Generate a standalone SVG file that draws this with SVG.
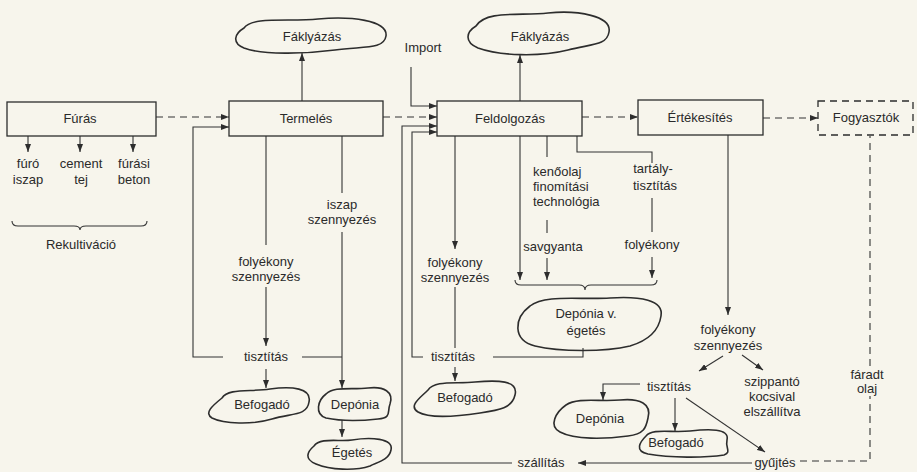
<svg xmlns="http://www.w3.org/2000/svg" width="917" height="472" viewBox="0 0 917 472">
<defs>
<marker id="ah" markerUnits="userSpaceOnUse" markerWidth="8" markerHeight="6" refX="8" refY="3" orient="auto">
<path d="M0,0 L8,3 L0,6 Z" fill="#2d2d2d"/>
</marker>
<style>
.box{fill:none;stroke:#2d2d2d;stroke-width:1.3}
.dbox{fill:none;stroke:#2d2d2d;stroke-width:1.3;stroke-dasharray:7,5}
.cloud{fill:none;stroke:#2d2d2d;stroke-width:1.6}
.ln{fill:none;stroke:#333;stroke-width:1.1}
.dash{stroke-dasharray:7,5}
.arr{marker-end:url(#ah)}
text{font-family:"Liberation Sans",Arial,sans-serif;font-size:13px;fill:#2a2a2a;text-anchor:middle}
.la{text-anchor:start}
</style>
</defs>
<rect x="0" y="0" width="917" height="472" fill="#f7f5ec"/>

<g id="connectors">
<path class="ln dash arr" d="M156,117 H229"/>
<path class="ln arr" d="M28,136 V152"/>
<path class="ln arr" d="M80,136 V152"/>
<path class="ln arr" d="M133,136 V152"/>
<path class="ln" d="M12,221 q0,5 6,5 h56 q6,0 6,4 q0,-4 6,-4 h55 q6,0 6,-5"/>
<path class="ln arr" d="M302,101 V53"/>
<path class="ln dash arr" d="M383,117 H437"/>
<path class="ln arr" d="M520,101 V55"/>
<path class="ln arr" d="M411,67 V106 H437"/>
<path class="ln dash arr" d="M582,117 H638"/>
<path class="ln dash arr" d="M763,118 H818"/>
<path class="ln" d="M266,136 V245"/>
<path class="ln arr" d="M266,287 V346"/>
<path class="ln" d="M342,136 V193"/>
<path class="ln arr" d="M342,232 V388"/>
<path class="ln arr" d="M223,357 H193 V127 H229"/>
<path class="ln" d="M302,357 H342"/>
<path class="ln arr" d="M266,369 V388"/>
<path class="ln arr" d="M342,420 V437"/>
<path class="ln arr" d="M455,136 V249"/>
<path class="ln" d="M455,287 V348"/>
<path class="ln arr" d="M455,367 V381"/>
<path class="ln arr" d="M423,357 H412 V132 H437"/>
<path class="ln" d="M493,357 H583 V348"/>
<path class="ln arr" d="M512,463 H402 V126 H437"/>
<path class="ln arr" d="M520,136 V280"/>
<path class="ln" d="M547,136 V157"/>
<path class="ln" d="M547,220 V233"/>
<path class="ln arr" d="M547,258 V280"/>
<path class="ln" d="M577,136 V152 H652 V163"/>
<path class="ln" d="M652,198 V232"/>
<path class="ln arr" d="M652,257 V278"/>
<path class="ln" d="M515,280 q0,5 6,5 h58 q6,0 6,5 q0,-5 6,-5 h60 q6,0 6,-5"/>
<path class="ln arr" d="M728,135 V315"/>
<path class="ln arr" d="M723,356 L699,371"/>
<path class="ln arr" d="M742,355 L763,370"/>
<path class="ln arr" d="M640,384 H603 V400"/>
<path class="ln arr" d="M675,398 V431"/>
<path class="ln arr" d="M686,398 L765,452"/>
<path class="ln arr" d="M752,463 H578"/>
<path class="ln dash" d="M800,461 H870 V396"/>
<path class="ln dash" d="M870,366 V136"/>
</g>

<g id="furas"><rect class="box" x="7" y="102" width="149" height="34"/><text x="80" y="123">Fúrás</text></g>
<g id="termeles"><rect class="box" x="229" y="101" width="154" height="35"/><text x="306" y="123">Termelés</text></g>
<g id="feldolgozas"><rect class="box" x="437" y="101" width="145" height="35"/><text x="510" y="123">Feldolgozás</text></g>
<g id="ertekesites"><rect class="box" x="638" y="100" width="125" height="35"/><text x="700" y="122">Értékesítés</text></g>
<g id="fogyasztok"><rect class="dbox" x="818" y="101" width="95" height="34"/><text x="866" y="122">Fogyasztók</text></g>

<g id="faklyazas1"><path class="cloud" d="M244,28 C252,16 290,22 318,19 C350,16 388,20 386,36 C384,50 362,46 335,50 C305,54 262,55 244,48 C232,43 234,34 244,28 Z"/><text x="312" y="41">Fáklyázás</text></g>
<g id="faklyazas2"><path class="cloud" d="M476,26 C486,10 520,16 548,13 C578,10 612,16 609,32 C607,46 590,44 568,50 C540,57 500,56 478,48 C464,42 466,32 476,26 Z"/><text x="540" y="41">Fáklyázás</text></g>
<g id="befogado1"><path class="cloud" d="M222,398 C228,388 250,392 270,389 C292,386 312,388 309,402 C307,416 292,413 272,419 C252,425 224,424 212,418 C204,413 212,406 222,398 Z"/><text x="262" y="409">Befogadó</text></g>
<g id="deponia1"><path class="cloud" d="M326,394 C334,386 352,390 368,388 C384,386 394,392 390,404 C387,412 392,418 378,419 C360,421 340,421 326,418 C314,414 318,400 326,394 Z"/><text x="355" y="409">Depónia</text></g>
<g id="egetes"><path class="cloud" d="M314,446 C320,437 340,442 352,440 C370,437 394,438 391,450 C389,460 378,462 370,466 C355,471 330,470 316,464 C304,459 307,452 314,446 Z"/><text x="352" y="457">Égetés</text></g>
<g id="deponia_v_egetes"><path class="cloud" d="M530,306 C545,294 580,300 610,298 C640,296 664,300 661,316 C659,330 650,340 630,346 C605,352 560,352 535,346 C512,340 514,318 530,306 Z"/><text x="586" y="318">Depónia v.</text><text x="586" y="335">égetés</text></g>
<g id="befogado2"><path class="cloud" d="M428,390 C435,380 455,384 475,382 C497,380 519,380 515,395 C512,408 500,410 480,413 C460,416 430,419 418,412 C408,406 420,398 428,390 Z"/><text x="465" y="402">Befogadó</text></g>
<g id="deponia2"><path class="cloud" d="M566,405 C578,397 600,402 620,400 C640,398 652,404 648,418 C646,428 644,434 628,436 C605,439 575,440 560,432 C548,426 556,412 566,405 Z"/><text x="600" y="423">Depónia</text></g>
<g id="befogado3"><path class="cloud" d="M646,436 C652,428 672,433 690,431 C708,429 730,428 727,440 C725,448 732,452 724,455 C705,458 670,458 648,454 C634,451 640,442 646,436 Z"/><text x="676" y="447">Befogadó</text></g>

<g id="labels">
<text x="423" y="52">Import</text>
<text x="28" y="168">fúró</text><text x="28" y="184">iszap</text>
<text x="81" y="168">cement</text><text x="81" y="184">tej</text>
<text x="134" y="168">fúrási</text><text x="134" y="184">beton</text>
<text x="81" y="249">Rekultiváció</text>
<text x="266" y="266">folyékony</text><text x="266" y="281">szennyezés</text>
<text x="342" y="209">iszap</text><text x="342" y="224">szennyezés</text>
<text x="266" y="361">tisztítás</text>
<text x="455" y="267">folyékony</text><text x="455" y="282">szennyezés</text>
<text x="453" y="361">tisztítás</text>
<text class="la" x="533" y="176">kenőolaj</text><text class="la" x="533" y="191">finomítási</text><text class="la" x="533" y="206">technológia</text>
<text x="553" y="251">savgyanta</text>
<text x="653" y="173">tartály-</text><text x="655" y="190">tisztítás</text>
<text x="652" y="249">folyékony</text>
<text x="728" y="334">folyékony</text><text x="728" y="350">szennyezés</text>
<text x="669" y="391">tisztítás</text>
<text x="772" y="386">szippantó</text><text x="772" y="401">kocsival</text><text x="772" y="416">elszállítva</text>
<text x="867" y="379">fáradt</text><text x="867" y="393">olaj</text>
<text x="541" y="467">szállítás</text>
<text x="775" y="467">gyűjtés</text>
</g>
</svg>
